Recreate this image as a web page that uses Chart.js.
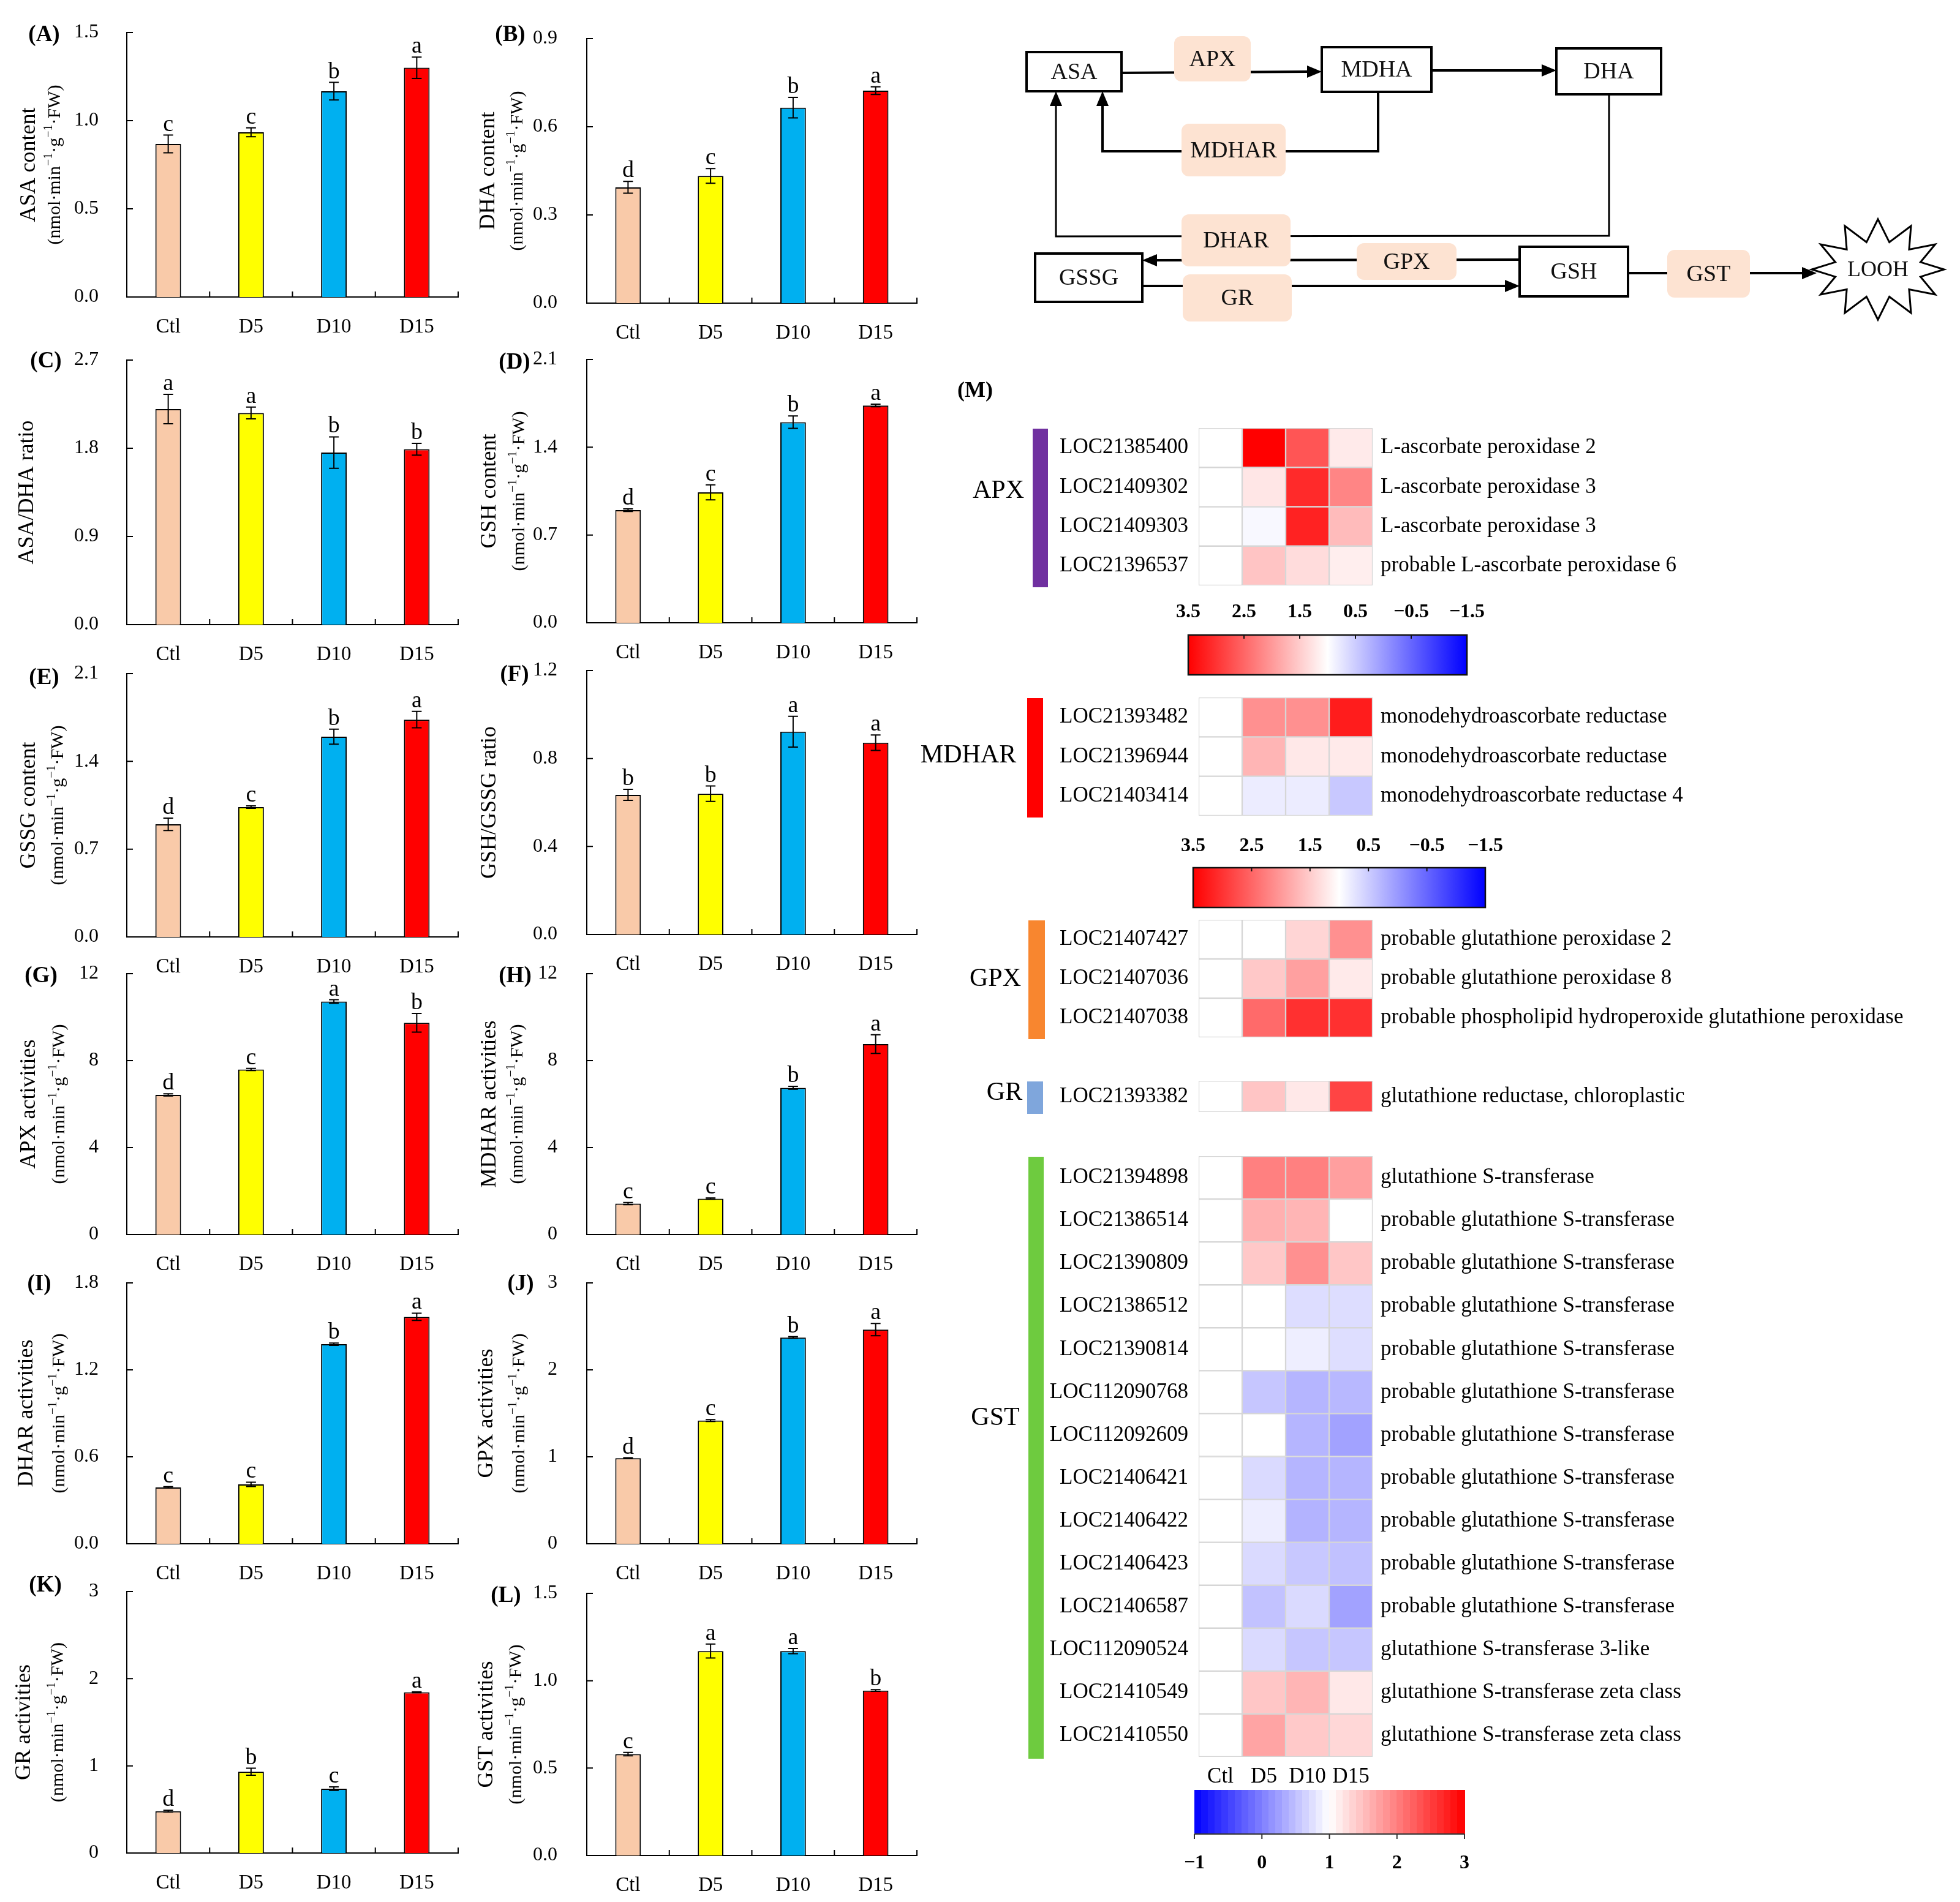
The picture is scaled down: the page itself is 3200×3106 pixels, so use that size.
<!DOCTYPE html>
<html><head><meta charset="utf-8">
<script src="https://cdn.jsdelivr.net/npm/chart.js@4.4.1/dist/chart.umd.min.js"></script>
<style>
html,body{margin:0;padding:0;background:#fff;}
body{width:3200px;height:3106px;position:relative;overflow:hidden;}
canvas{position:absolute;}
</style></head>
<body>
<canvas id="bg" width="3200" height="3106" style="left:0;top:0"></canvas>
<script>
// ---------------- DATA ----------------
const groups = ['Ctl', 'D5', 'D10', 'D15'];

const asaVals = [0.868, 0.934, 1.167, 1.30];   const asaErr = [0.05, 0.025, 0.05, 0.06];    const asaSig = ['c','c','b','a'];
const dhaVals = [0.394, 0.433, 0.665, 0.723];  const dhaErr = [0.02, 0.025, 0.035, 0.013];  const dhaSig = ['d','c','b','a'];
const asaDhaVals = [2.20, 2.16, 1.756, 1.79];  const asaDhaErr = [0.15, 0.06, 0.16, 0.06];  const asaDhaSig = ['a','a','b','b'];
const gshVals = [0.898, 1.04, 1.60, 1.733];    const gshErr = [0.01, 0.06, 0.05, 0.01];     const gshSig = ['d','c','b','a'];
const gssgVals = [0.898, 1.035, 1.597, 1.733]; const gssgErr = [0.05, 0.01, 0.06, 0.065];   const gssgSig = ['d','c','b','a'];
const gshGssgVals = [0.635, 0.64, 0.922, 0.872]; const gshGssgErr = [0.025, 0.035, 0.07, 0.035]; const gshGssgSig = ['b','b','a','a'];
const apxVals = [6.42, 7.59, 10.72, 9.74];     const apxErr = [0.05, 0.05, 0.08, 0.43];     const apxSig = ['d','c','a','b'];
const mdharVals = [1.42, 1.65, 6.75, 8.76];    const mdharErr = [0.05, 0.03, 0.07, 0.43];   const mdharSig = ['c','c','b','a'];
const dharVals = [0.389, 0.41, 1.377, 1.566];  const dharErr = [0.005, 0.015, 0.008, 0.025]; const dharSig = ['c','c','b','a'];
const gpxVals = [0.984, 1.417, 2.372, 2.463];  const gpxErr = [0.005, 0.01, 0.01, 0.07];    const gpxSig = ['d','c','b','a'];
const grVals = [0.48, 0.933, 0.738, 1.844];    const grErr = [0.01, 0.04, 0.02, 0.005];     const grSig = ['d','b','c','a'];
const gstVals = [0.58, 1.17, 1.17, 0.944];     const gstErr = [0.01, 0.04, 0.015, 0.005];   const gstSig = ['c','a','a','b'];

const yTitles = ['ASA content','DHA content','ASA/DHA ratio','GSH content','GSSG content','GSH/GSSG ratio',
                 'APX activities','MDHAR activities','DHAR activities','GPX activities','GR activities','GST activities'];
const yMax  = [1.5, 0.9, 2.7, 2.1, 2.1, 1.2, 12, 12, 1.8, 3, 3, 1.5];
const yStep = [0.5, 0.3, 0.9, 0.7, 0.7, 0.4, 4, 4, 0.6, 1, 1, 0.5];
const panelLetters = ['(A)','(B)','(C)','(D)','(E)','(F)','(G)','(H)','(I)','(J)','(K)','(L)'];

// heatmap data (relative expression, Ctl = 1)
const apxGenes = ['LOC21385400','LOC21409302','LOC21409303','LOC21396537'];
const apxDesc  = ['L-ascorbate peroxidase 2','L-ascorbate peroxidase 3','L-ascorbate peroxidase 3','probable L-ascorbate peroxidase 6'];
const apxHeat  = [[1,3.5,2.67,1.21],[1,1.25,3.09,2.2],[1,0.93,3.17,1.67],[1,1.58,1.34,1.17]];
const mdharGenes = ['LOC21393482','LOC21396944','LOC21403414'];
const mdharDesc  = ['monodehydroascorbate reductase','monodehydroascorbate reductase','monodehydroascorbate reductase 4'];
const mdharHeat  = [[1,2.09,2.09,3.23],[1,1.73,1.23,1.21],[1,0.81,0.81,0.46]];
const gpxGenes = ['LOC21407427','LOC21407036','LOC21407038'];
const gpxDesc  = ['probable glutathione peroxidase 2','probable glutathione peroxidase 8','probable phospholipid hydroperoxide glutathione peroxidase'];
const gpxHeat  = [[1,1,1.41,2.09],[1,1.54,1.93,1.21],[1,2.46,3.03,3.03]];
const grGenes = ['LOC21393382'];
const grDesc  = ['glutathione reductase, chloroplastic'];
const grHeat  = [[1,1.57,1.23,2.83]];
const gstGenes = ['LOC21394898','LOC21386514','LOC21390809','LOC21386512','LOC21390814','LOC112090768','LOC112092609',
                  'LOC21406421','LOC21406422','LOC21406423','LOC21406587','LOC112090524','LOC21410549','LOC21410550'];
const gstDesc  = ['glutathione S-transferase','probable glutathione S-transferase','probable glutathione S-transferase',
                  'probable glutathione S-transferase','probable glutathione S-transferase','probable glutathione S-transferase',
                  'probable glutathione S-transferase','probable glutathione S-transferase','probable glutathione S-transferase',
                  'probable glutathione S-transferase','probable glutathione S-transferase','glutathione S-transferase 3-like',
                  'glutathione S-transferase zeta class','glutathione S-transferase zeta class'];
const gstHeat  = [[1,2.0,2.0,1.75],[1,1.62,1.58,1],[1,1.43,1.87,1.45],[1,1,0.73,0.73],[1,1,0.87,0.74],
                  [1,0.55,0.42,0.44],[1,1,0.42,0.27],[1,0.71,0.42,0.42],[1,0.86,0.40,0.42],[1,0.71,0.57,0.51],
                  [1,0.52,0.71,0.27],[1,0.71,0.55,0.55],[1,1.45,1.58,1.18],[1,1.71,1.42,1.31]];
const cbTicksUpper = [3.5, 2.5, 1.5, 0.5, -0.5, -1.5];
const cbTicksLower = [-1, 0, 1, 2, 3];

// ---------------- STYLE / LAYOUT ----------------
const SERIF = '"Liberation Serif", "Times New Roman", serif';
Chart.defaults.font.family = SERIF;
Chart.defaults.color = '#000';
const barColors = ['#f9caa9', '#ffff00', '#00b0f0', '#ff0000'];
const cols = [{L:0, W:770, axisX:207, right:748, pad:38}, {L:760, W:760, axisX:958, right:1497, pad:40}];

const panels = [
 {vals:asaVals, err:asaErr, sig:asaSig, col:0, top:53, bottom:485, lab:[72,57], t1:48, t2:90},
 {vals:dhaVals, err:dhaErr, sig:dhaSig, col:1, top:63, bottom:495, lab:[833,57], t1:798, t2:845},
 {vals:asaDhaVals, err:asaDhaErr, sig:asaDhaSig, col:0, top:588, bottom:1020, lab:[75,590], t1:45, t2:null},
 {vals:gshVals, err:gshErr, sig:gshSig, col:1, top:587, bottom:1017, lab:[840,592], t1:800, t2:848},
 {vals:gssgVals, err:gssgErr, sig:gssgSig, col:0, top:1100, bottom:1530, lab:[72,1107], t1:48, t2:95},
 {vals:gshGssgVals, err:gshGssgErr, sig:gshGssgSig, col:1, top:1095, bottom:1526, lab:[840,1102], t1:800, t2:null},
 {vals:apxVals, err:apxErr, sig:apxSig, col:0, top:1590, bottom:2016, lab:[67,1594], t1:48, t2:97},
 {vals:mdharVals, err:mdharErr, sig:mdharSig, col:1, top:1590, bottom:2016, lab:[841,1594], t1:800, t2:845},
 {vals:dharVals, err:dharErr, sig:dharSig, col:0, top:2095, bottom:2521, lab:[64,2097], t1:44, t2:97},
 {vals:gpxVals, err:gpxErr, sig:gpxSig, col:1, top:2095, bottom:2521, lab:[850,2097], t1:795, t2:848},
 {vals:grVals, err:grErr, sig:grSig, col:0, top:2599, bottom:3026, lab:[74,2589], t1:40, t2:95},
 {vals:gstVals, err:gstErr, sig:gstSig, col:1, top:2602, bottom:3030, lab:[826,2606], t1:795, t2:843}
];

function drawUnit(ctx, cx, cy) {
  ctx.save(); ctx.translate(cx, cy); ctx.rotate(-Math.PI / 2);
  const big = '30px ' + SERIF, small = '20px ' + SERIF;
  const segs = [['(nmol·min',0],['−1',1],['·g',0],['−1',1],['·FW)',0]];
  let w = 0;
  segs.forEach(s => { ctx.font = s[1] ? small : big; w += ctx.measureText(s[0]).width; });
  let x = -w / 2; ctx.textAlign = 'left'; ctx.textBaseline = 'middle'; ctx.fillStyle = '#000';
  segs.forEach(s => { ctx.font = s[1] ? small : big; ctx.fillText(s[0], x, s[1] ? -10 : 0); x += ctx.measureText(s[0]).width; });
  ctx.restore();
}

function makeBarPanel(p, idx) {
  const c = cols[p.col];
  const T = p.top - 60, H = p.bottom + 80 - T;
  const cv = document.createElement('canvas');
  cv.width = c.W; cv.height = H; cv.style.left = c.L + 'px'; cv.style.top = T + 'px';
  document.body.appendChild(cv);
  const dec = yStep[idx] < 1 ? 1 : 0;
  const extras = {
    id: 'extras' + idx,
    afterDatasetsDraw(chart) {
      const ctx = chart.ctx, ys = chart.scales.y, ca = chart.chartArea;
      const meta = chart.getDatasetMeta(0);
      ctx.save(); ctx.strokeStyle = '#000'; ctx.lineWidth = 2; ctx.fillStyle = '#000';
      meta.data.forEach((bar, i) => {
        const v = p.vals[i], e = p.err[i];
        const yt = ys.getPixelForValue(v + e), yb = ys.getPixelForValue(v - e), x = bar.x;
        ctx.beginPath();
        ctx.moveTo(x, yt); ctx.lineTo(x, yb);
        ctx.moveTo(x - 8, yt); ctx.lineTo(x + 8, yt);
        ctx.moveTo(x - 8, yb); ctx.lineTo(x + 8, yb);
        ctx.stroke();
        ctx.font = '38px ' + SERIF; ctx.textAlign = 'center'; ctx.textBaseline = 'alphabetic';
        ctx.fillText(p.sig[i], x, yt - 7);
      });
      // inward tick marks: category boundaries and y ticks
      ctx.beginPath();
      for (let k = 1; k <= 4; k++) {
        const x = ca.left + k * (ca.right - ca.left) / 4;
        ctx.moveTo(x, ca.bottom); ctx.lineTo(x, ca.bottom - 9);
      }
      ys.ticks.forEach(t => {
        const y = ys.getPixelForValue(t.value);
        if (Math.abs(y - ca.bottom) > 2) { ctx.moveTo(ca.left, y); ctx.lineTo(ca.left + 10, y); }
      });
      ctx.stroke();
      ctx.restore();
    },
    afterDraw(chart) {
      const ctx = chart.ctx;
      const midY = (p.top + p.bottom) / 2 - T;
      ctx.save(); ctx.fillStyle = '#000';
      ctx.font = 'bold 37px ' + SERIF; ctx.textAlign = 'center'; ctx.textBaseline = 'middle';
      ctx.fillText(panelLetters[idx], p.lab[0] - c.L, p.lab[1] - T);
      ctx.translate(p.t1 - c.L, midY); ctx.rotate(-Math.PI / 2);
      ctx.font = '36px ' + SERIF;
      ctx.fillText(yTitles[idx], 0, 0);
      ctx.restore();
      if (p.t2 !== null) drawUnit(ctx, p.t2 - c.L, midY);
    }
  };
  new Chart(cv, {
    type: 'bar',
    data: { labels: groups, datasets: [{ data: p.vals, backgroundColor: barColors, borderColor: '#000', borderWidth: 2,
            barPercentage: 0.31, categoryPercentage: 1 }] },
    options: {
      responsive: false, animation: false, devicePixelRatio: 1,
      layout: { padding: { top: p.top - T, right: c.W - (c.right - c.L), left: 0, bottom: 0 } },
      plugins: { legend: { display: false }, tooltip: { enabled: false } },
      scales: {
        x: { grid: { display: false }, border: { display: true, color: '#000', width: 2 },
             ticks: { color: '#000', font: { size: 33, family: SERIF }, padding: 22, maxRotation: 0 },
             afterFit: s => { s.height = H - (p.bottom - T); } },
        y: { min: 0, max: yMax[idx],
             ticks: { stepSize: yStep[idx], color: '#000', font: { size: 32, family: SERIF }, padding: c.pad,
                      callback: v => Number(v).toFixed(dec) },
             grid: { display: false },
             border: { display: true, color: '#000', width: 2 },
             afterFit: s => { s.width = c.axisX - c.L; } }
      }
    },
    plugins: [extras]
  });
}
panels.forEach((p, i) => makeBarPanel(p, i));

// ---------------- HEATMAP ----------------
function heatColor(v, span) {
  if (v >= 1) { const t = Math.min(1, (v - 1) / span); const g = Math.round(255 * (1 - t)); return `rgb(255,${g},${g})`; }
  const t = Math.min(1, (1 - v) / span); const r = Math.round(255 * (1 - t)); return `rgb(${r},${r},255)`;
}
const HL = 1490, HW = 1710, cellLeft = 1957, cellRight = 2241;
const sections = [
  {name:'APX', genes:apxGenes, desc:apxDesc, heat:apxHeat, span:2.5, top:689, bottom:966, color:'#7030a0', strip:[1686,1711], labX:1630, labY:802, xlab:false},
  {name:'MDHAR', genes:mdharGenes, desc:mdharDesc, heat:mdharHeat, span:2.5, top:1129, bottom:1342, color:'#ff0000', strip:[1677,1703], labX:1581, labY:1234, xlab:false},
  {name:'GPX', genes:gpxGenes, desc:gpxDesc, heat:gpxHeat, span:2.5, top:1492, bottom:1704, color:'#f8862f', strip:[1679,1706], labX:1625, labY:1599, xlab:false},
  {name:'GR', genes:grGenes, desc:grDesc, heat:grHeat, span:2.5, top:1755, bottom:1826, color:'#7fa6dc', strip:[1677,1703], labX:1640, labY:1785, xlab:false},
  {name:'GST', genes:gstGenes, desc:gstDesc, heat:gstHeat, span:2, top:1878, bottom:2869, color:'#6ecb3f', strip:[1679,1704], labX:1625, labY:2316, xlab:true}
];
function makeHeat(s, k) {
  const T = s.top - 20, bottomExtra = s.xlab ? 60 : 20;
  const H = s.bottom - T + bottomExtra;
  const cv = document.createElement('canvas');
  cv.width = HW; cv.height = H; cv.style.left = HL + 'px'; cv.style.top = T + 'px';
  document.body.appendChild(cv);
  const deco = {
    id: 'deco' + k,
    afterDraw(chart) {
      const ctx = chart.ctx, ca = chart.chartArea;
      ctx.save();
      ctx.fillStyle = s.color;
      ctx.fillRect(s.strip[0] - HL, ca.top + 1, s.strip[1] - s.strip[0], ca.bottom - ca.top + 2);
      ctx.fillStyle = '#000'; ctx.font = '42px ' + SERIF; ctx.textAlign = 'center'; ctx.textBaseline = 'middle';
      ctx.fillText(s.name, s.labX - HL, s.labY - T);
      ctx.restore();
    }
  };
  const xScale = { stacked: true, min: 0, max: 4, display: s.xlab, grid: { display: false }, border: { display: false } };
  if (s.xlab) {
    xScale.afterBuildTicks = a => { a.ticks = [0.5, 1.5, 2.5, 3.5].map(v => ({ value: v })); };
    xScale.ticks = { autoSkip: false, maxRotation: 0, padding: 4, font: { size: 35, family: SERIF }, color: '#000',
                     callback: (v, i) => groups[i] };
    xScale.afterFit = a => { a.height = 60; };
  }
  new Chart(cv, {
    type: 'bar',
    data: { labels: s.genes,
            datasets: groups.map((g, j) => ({ label: g, data: s.genes.map(() => 1),
              backgroundColor: s.heat.map(r => heatColor(r[j], s.span)), borderColor: '#d6d6d6', borderWidth: 1.5,
              borderSkipped: false, barPercentage: 1, categoryPercentage: 1 })) },
    options: {
      indexAxis: 'y', responsive: false, animation: false, devicePixelRatio: 1,
      layout: { padding: { top: 20, bottom: s.xlab ? 0 : 20, left: 0, right: 0 } },
      plugins: { legend: { display: false }, tooltip: { enabled: false } },
      scales: {
        x: xScale,
        y: { stacked: true, grid: { display: false }, border: { display: false },
             ticks: { autoSkip: false, padding: 9, font: { size: 35, family: SERIF }, color: '#000' },
             afterFit: a => { a.width = cellLeft - HL; } },
        y2: { type: 'category', labels: s.desc, position: 'right', offset: true,
              grid: { display: false }, border: { display: false },
              ticks: { autoSkip: false, padding: 5, font: { size: 35, family: SERIF }, color: '#000' },
              afterFit: a => { a.width = HW - (cellRight - HL); } }
      }
    },
    plugins: [deco]
  });
}
sections.forEach((s, k) => makeHeat(s, k));

// ---------------- BACKGROUND: pathway diagram, colour bars, (M) ----------------
(function drawBackground() {
  const ctx = document.getElementById('bg').getContext('2d');
  ctx.fillStyle = '#fff'; ctx.fillRect(0, 0, 3200, 3106);
  ctx.strokeStyle = '#000'; ctx.fillStyle = '#000';
  function poly(pts, w) { ctx.beginPath(); ctx.moveTo(pts[0][0], pts[0][1]); for (let i = 1; i < pts.length; i++) ctx.lineTo(pts[i][0], pts[i][1]); ctx.lineWidth = w; ctx.strokeStyle = '#000'; ctx.stroke(); }
  function head(x, y, dir) {
    const L = 24, W = 10; ctx.beginPath();
    if (dir === 'r') { ctx.moveTo(x, y); ctx.lineTo(x - L, y - W); ctx.lineTo(x - L, y + W); }
    if (dir === 'l') { ctx.moveTo(x, y); ctx.lineTo(x + L, y - W); ctx.lineTo(x + L, y + W); }
    if (dir === 'u') { ctx.moveTo(x, y); ctx.lineTo(x - W, y + L); ctx.lineTo(x + W, y + L); }
    ctx.closePath(); ctx.fillStyle = '#000'; ctx.fill();
  }
  function box(x1, y1, x2, y2, t) {
    ctx.fillStyle = '#fff'; ctx.fillRect(x1, y1, x2 - x1, y2 - y1);
    ctx.lineWidth = 4; ctx.strokeStyle = '#000'; ctx.strokeRect(x1, y1, x2 - x1, y2 - y1);
    ctx.fillStyle = '#111'; ctx.font = '38px ' + SERIF; ctx.textAlign = 'center'; ctx.textBaseline = 'middle';
    ctx.fillText(t, (x1 + x2) / 2, (y1 + y2) / 2 + 2);
  }
  function pill(x1, y1, x2, y2, t) {
    const r = 12; ctx.fillStyle = '#fde3d2';
    ctx.beginPath(); ctx.roundRect(x1, y1, x2 - x1, y2 - y1, r); ctx.fill();
    ctx.fillStyle = '#111'; ctx.font = '38px ' + SERIF; ctx.textAlign = 'center'; ctx.textBaseline = 'middle';
    ctx.fillText(t, (x1 + x2) / 2, (y1 + y2) / 2 + 2);
  }
  // connectors
  poly([[1831, 119], [2136, 117]], 4); head(2158, 117, 'r');
  poly([[2337, 115], [2519, 115]], 4); head(2541, 115, 'r');
  poly([[2250, 150], [2250, 247], [1800, 247], [1800, 171]], 4); head(1800, 149, 'u');
  poly([[2627, 154], [2627, 385], [1724, 386], [1724, 171]], 3); head(1724, 149, 'u');
  poly([[2481, 424], [1887, 425]], 4); head(1865, 425, 'l');
  poly([[1865, 467], [2459, 467]], 4); head(2481, 467, 'r');
  poly([[2658, 446], [2944, 446]], 4); head(2966, 446, 'r');
  // boxes
  box(1676, 85, 1831, 149, 'ASA');
  box(2158, 77, 2337, 150, 'MDHA');
  box(2541, 79, 2712, 154, 'DHA');
  box(1690, 414, 1865, 493, 'GSSG');
  box(2481, 403, 2658, 484, 'GSH');
  // enzymes
  pill(1917, 59, 2042, 133, 'APX');
  pill(1929, 202, 2099, 288, 'MDHAR');
  pill(1929, 350, 2107, 435, 'DHAR');
  pill(2215, 397, 2378, 457, 'GPX');
  pill(1931, 448, 2109, 525, 'GR');
  pill(2722, 408, 2857, 486, 'GST');
  // LOOH starburst
  (function () {
    const cx = 3066, cy = 440, n = 12;
    ctx.beginPath();
    for (let i = 0; i < 2 * n; i++) {
      const a = -Math.PI / 2 + i * Math.PI / n;
      const rx = i % 2 === 0 ? 108 : 72, ry = i % 2 === 0 ? 82 : 46;
      const x = cx + rx * Math.cos(a), y = cy + ry * Math.sin(a);
      if (i === 0) ctx.moveTo(x, y); else ctx.lineTo(x, y);
    }
    ctx.closePath(); ctx.fillStyle = '#fff'; ctx.fill(); ctx.lineWidth = 3; ctx.strokeStyle = '#000'; ctx.stroke();
    ctx.fillStyle = '#111'; ctx.font = '36px ' + SERIF; ctx.textAlign = 'center'; ctx.textBaseline = 'middle';
    ctx.fillText('LOOH', cx, cy + 2);
  })();

  // (M)
  ctx.fillStyle = '#000'; ctx.font = 'bold 36px ' + SERIF; ctx.textAlign = 'center'; ctx.textBaseline = 'middle';
  ctx.fillText('(M)', 1592, 639);

  // colour bars
  function fmt(v) { return (v < 0 ? '−' : '') + Math.abs(v); }
  function upperBar(x1, x2, y1, y2, labY) {
    const g = ctx.createLinearGradient(x1, 0, x2, 0);
    g.addColorStop(0, '#ff0000'); g.addColorStop(0.5, '#ffffff'); g.addColorStop(1, '#0000ff');
    ctx.fillStyle = g; ctx.fillRect(x1, y1, x2 - x1, y2 - y1);
    ctx.lineWidth = 2.5; ctx.strokeStyle = '#111'; ctx.strokeRect(x1, y1, x2 - x1, y2 - y1);
    const n = cbTicksUpper.length;
    ctx.fillStyle = '#000'; ctx.font = 'bold 32px ' + SERIF; ctx.textAlign = 'center'; ctx.textBaseline = 'middle';
    cbTicksUpper.forEach((v, i) => {
      const x = x1 + (x2 - x1) * (cbTicksUpper[0] - v) / (cbTicksUpper[0] - cbTicksUpper[n - 1]);
      ctx.beginPath(); ctx.moveTo(x, y1); ctx.lineTo(x, y1 + 6); ctx.lineWidth = 2; ctx.stroke();
      ctx.fillText(fmt(v), x, labY);
    });
  }
  upperBar(1940, 2395, 1037, 1102, 1000);
  upperBar(1948, 2425, 1417, 1482, 1382);
  // lower (stepped) bar
  (function () {
    const x1 = 1950, x2 = 2391, y1 = 2923, y2 = 2995, steps = 40;
    const lo = cbTicksLower[0], hi = cbTicksLower[cbTicksLower.length - 1];
    for (let i = 0; i < steps; i++) {
      const v = lo + (hi - lo) * (i + 0.5) / steps;
      ctx.fillStyle = heatColor(v, 2);
      const xa = x1 + (x2 - x1) * i / steps, xb = x1 + (x2 - x1) * (i + 1) / steps;
      ctx.fillRect(Math.floor(xa), y1, Math.ceil(xb - xa) + 1, y2 - y1);
    }
    ctx.lineWidth = 2; ctx.strokeStyle = '#333'; ctx.beginPath(); ctx.moveTo(x1, y2); ctx.lineTo(x2, y2); ctx.stroke();
    ctx.fillStyle = '#000'; ctx.font = 'bold 32px ' + SERIF; ctx.textAlign = 'center'; ctx.textBaseline = 'middle';
    cbTicksLower.forEach(v => {
      const x = x1 + (x2 - x1) * (v - lo) / (hi - lo);
      ctx.beginPath(); ctx.moveTo(x, y2); ctx.lineTo(x, y2 + 8); ctx.stroke();
      ctx.fillText(fmt(v), x, 3043);
    });
  })();
})();
</script>
</body></html>
